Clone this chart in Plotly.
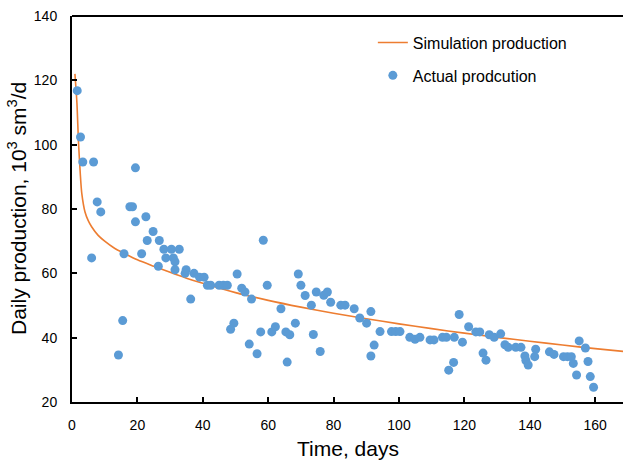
import plotly.graph_objects as go

# Actual production (days, 10^3 sm3/d)
actual_days = [1.6, 2.6, 3.3, 6.6, 7.7, 8.8, 6.0, 14.2, 15.5, 15.9,
               17.7, 18.5, 19.4, 19.4, 22.6, 24.8, 23.0, 26.7, 21.3, 28.1,
               30.4, 32.8, 28.7, 31.0, 31.5, 26.4, 31.5, 34.9, 34.6, 37.3,
               39.0, 40.4, 36.3, 41.4, 42.4, 45.0, 46.3, 47.5, 50.5, 51.9,
               52.9, 54.9, 58.5, 59.7, 49.5, 48.5, 54.2, 56.6, 57.7, 61.1,
               62.2, 63.9, 65.4, 66.6, 68.3, 65.8, 69.2, 70.0, 71.3, 73.2,
               74.7, 73.8, 75.9, 77.0, 78.1, 79.1, 82.2, 83.5, 86.3, 88.0,
               90.1, 91.4, 94.2, 92.4, 91.4, 97.7, 99.0, 100.3, 103.3, 104.9,
               106.4, 109.5, 110.7, 113.3, 114.5, 116.9, 118.4, 119.4, 121.3, 116.7,
               115.2, 123.5, 124.7, 125.7, 126.6, 127.6, 129.1, 131.1, 132.4, 133.4,
               135.7, 137.3, 138.5, 138.8, 139.5, 141.5, 141.8, 146.0, 147.4, 150.3,
               151.5, 152.7, 153.3, 154.3, 155.1, 157.0, 157.8, 158.5, 159.5]
actual_values = [116.8, 102.4, 94.6, 94.6, 82.2, 79.1, 64.8, 34.6, 45.3, 66.1,
                 80.7, 80.7, 92.8, 76.0, 77.6, 73.0, 70.2, 70.2, 66.1, 67.5,
                 67.5, 67.5, 64.8, 64.8, 63.6, 62.2, 61.1, 61.1, 60.0, 60.0,
                 58.8, 58.8, 52.0, 56.3, 56.3, 56.3, 56.3, 56.3, 59.8, 55.4,
                 54.2, 52.0, 70.3, 56.3, 44.5, 42.6, 38.0, 35.0, 41.8, 41.8,
                 43.4, 49.0, 41.8, 40.9, 44.5, 32.4, 59.8, 56.3, 53.1, 50.1,
                 54.2, 41.0, 35.7, 53.2, 54.2, 51.0, 50.1, 50.1, 49.0, 46.1,
                 44.5, 48.1, 41.9, 37.7, 34.3, 41.9, 41.9, 41.9, 40.1, 39.5,
                 40.1, 39.3, 39.3, 40.1, 40.1, 40.1, 47.2, 38.6, 43.4, 32.3,
                 29.9, 41.8, 41.8, 35.2, 33.0, 40.9, 40.1, 41.2, 37.8, 37.0,
                 37.0, 37.0, 34.3, 32.9, 31.5, 34.1, 36.4, 35.6, 34.8, 34.1,
                 34.1, 34.1, 32.0, 28.4, 39.0, 36.8, 32.6, 27.9, 24.6]

# Simulation production curve
sim_days = [0.9, 1.0, 1.5, 2.0, 2.5, 3.0, 4.0, 5.0, 6.0, 8.0,
            10, 13, 16, 20, 25, 30, 35, 40, 50, 60,
            70, 80, 90, 100, 110, 120, 130, 140, 150, 160, 169]
sim_values = [122.0, 120.5, 113.0, 100.5, 91.5, 84.8, 79.0, 76.3, 74.5, 71.8,
              70.0, 67.8, 66.2, 64.2, 62.2, 60.3, 58.5, 56.9, 54.0, 51.6,
              49.5, 47.6, 45.9, 44.3, 42.8, 41.4, 40.1, 38.9, 37.7, 36.6, 35.7]

x_ticks = [0, 20, 40, 60, 80, 100, 120, 140, 160]
y_ticks = [20, 40, 60, 80, 100, 120, 140]

FONT = "Liberation Sans, Arial, sans-serif"

fig = go.Figure()
fig.add_trace(go.Scatter(
    x=sim_days, y=sim_values, mode="lines", name="Simulation production",
    line=dict(color="#ED7D31", width=1.6, shape="spline", smoothing=0.8),
    legendgroup="a",
))
fig.add_trace(go.Scatter(
    x=actual_days, y=actual_values, mode="markers", name="Actual prodcution",
    marker=dict(color="#5B9BD5", size=9, line=dict(width=0)),
    legendgroup="b",
))

fig.update_layout(
    width=623, height=463,
    margin=dict(l=72, r=0, t=16, b=61),
    paper_bgcolor="white", plot_bgcolor="white",
    font=dict(family=FONT, size=14, color="#000000"),
    showlegend=True,
    legend=dict(x=0.546, y=0.975, xanchor="left", yanchor="top",
                font=dict(size=16), bgcolor="rgba(0,0,0,0)",
                tracegroupgap=9, itemsizing="trace"),
    xaxis=dict(range=[0, 168.5], tickvals=x_ticks, ticks="inside", ticklen=5,
               tickwidth=1.5, tickcolor="black", showline=True, linecolor="black",
               linewidth=2, mirror=False, showgrid=False, zeroline=False,
               ticklabelstandoff=9, automargin=False, ticklabeloverflow="allow"),
    yaxis=dict(range=[20, 140], tickvals=y_ticks, ticks="inside", ticklen=5,
               tickwidth=1.5, tickcolor="black", showline=True, linecolor="black",
               linewidth=2, showgrid=False, zeroline=False,
               ticklabelstandoff=10, automargin=False, ticklabeloverflow="allow"),
    shapes=[dict(type="line", xref="paper", yref="paper", x0=0, x1=1, y0=1, y1=1,
                 line=dict(color="black", width=2), layer="above")],
    annotations=[
        dict(text="Time, days", xref="paper", yref="paper", x=0.5, y=0,
             xanchor="center", yanchor="middle", yshift=-46, showarrow=False,
             font=dict(size=21)),
        dict(text="Daily production, 10<sup>3</sup> sm<sup>3</sup>/d",
             xref="paper", yref="paper", x=0, y=0.5, xanchor="center",
             yanchor="middle", xshift=-55, textangle=-90, showarrow=False,
             font=dict(size=21)),
    ],
)

fig.write_html(
    "out.html",
    config={"displayModeBar": False},
    post_script="document.body.style.margin='0';document.body.style.overflow='hidden';",
)
